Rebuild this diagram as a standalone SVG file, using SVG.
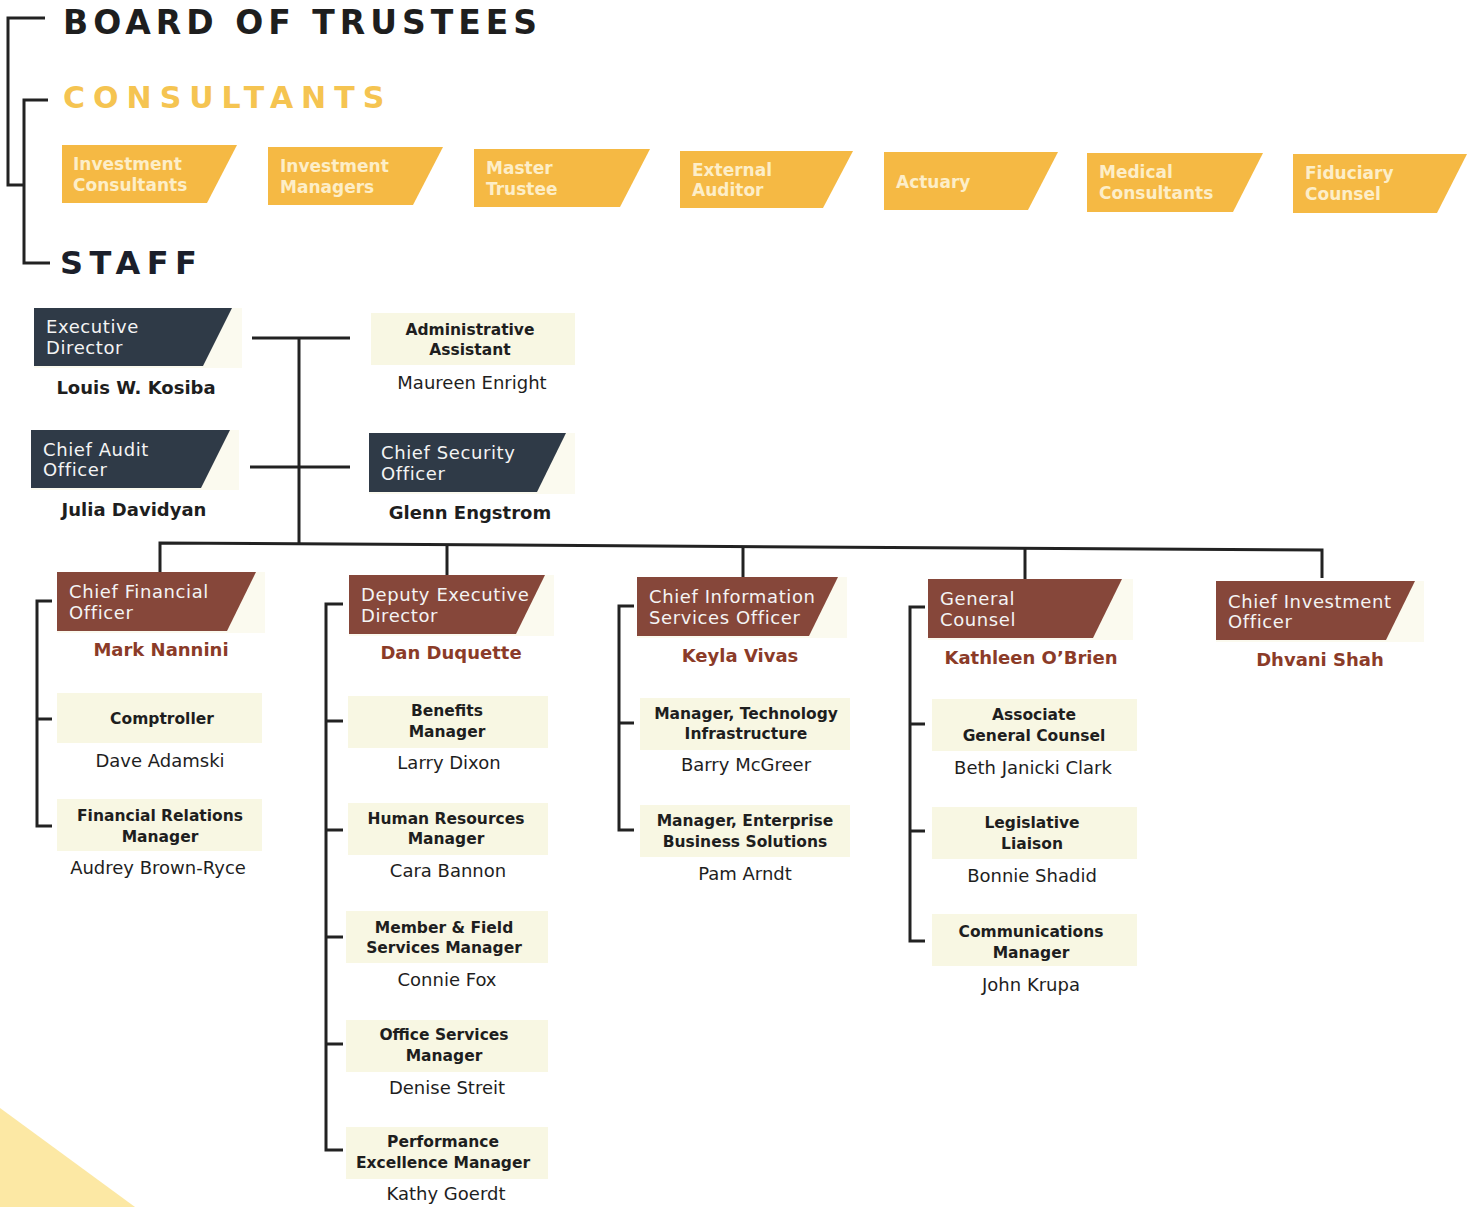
<svg xmlns="http://www.w3.org/2000/svg" width="1480" height="1207" viewBox="0 0 1480 1207">
<style>
.bg{fill:#ffffff}
.hdr{font-family:"DejaVu Sans",Verdana,sans-serif;font-weight:bold}
.con{fill:#f5b944}
.cont{font-family:"DejaVu Sans",sans-serif;font-weight:bold;font-size:17px;fill:#fdeec8}
.dark{fill:#2f3a47}
.brown{fill:#86473a}
.shade{fill:#fbfaef}
.ttl{font-family:"DejaVu Sans",Verdana,sans-serif;font-size:18px;fill:#f4f4f4;letter-spacing:0.6px}
.cream{fill:#f8f7e3}
.ct{font-family:"DejaVu Sans",Verdana,sans-serif;font-weight:bold;font-size:15.5px;fill:#1e1e1e;text-anchor:middle}
.nm{font-family:"DejaVu Sans",Verdana,sans-serif;font-size:18px;fill:#1e1e1e;text-anchor:middle}
.nmb{font-family:"DejaVu Sans",Verdana,sans-serif;font-weight:bold;font-size:18px;fill:#1e1e1e;text-anchor:middle}
.nmr{font-family:"DejaVu Sans",Verdana,sans-serif;font-weight:bold;font-size:18px;fill:#8b3b28;text-anchor:middle}
.ln{fill:none;stroke:#222;stroke-width:3}
</style>
<rect class="bg" x="0" y="0" width="1480" height="1207"/>
<polygon points="0,1108 135,1207 0,1207" fill="#fce8a4"/>

<g id="connectors">
<path class="ln" d="M45,18 H8 V185 H24"/>
<path class="ln" d="M48,100 H24 V263 H50"/>
<path class="ln" d="M252,338 H350"/>
<path class="ln" d="M250,467 H350"/>
<path class="ln" d="M299,338 V545"/>
<path class="ln" d="M160,572 V543 L1322,550 V578"/>
<path class="ln" d="M447,545 V575"/>
<path class="ln" d="M743,547 V577"/>
<path class="ln" d="M1025,549 V579"/>
<path class="ln" d="M52,601 H37 V826 H52 M37,719 H52"/>
<path class="ln" d="M343,604 H326 V1150 H343 M326,721 H343 M326,830 H343 M326,937 H343 M326,1044 H343"/>
<path class="ln" d="M634,606 H619 V830 H634 M619,723 H634"/>
<path class="ln" d="M925,607 H910 V941 H925 M910,724 H925 M910,831 H925"/>
</g>

<g id="board">
<text class="hdr" x="63" y="34" font-size="33" fill="#1e1e1e" letter-spacing="5">BOARD OF TRUSTEES</text>
</g>
<g id="consultants">
<text class="hdr" x="63" y="108" font-size="30" fill="#f5c451" letter-spacing="8">CONSULTANTS</text>
</g>
<g id="staff">
<text class="hdr" x="60" y="274" font-size="32" fill="#1b1f2a" letter-spacing="6.5">STAFF</text>
</g>

<g id="c-investment-consultants">
<polygon class="con" points="62,145 237,145 207,203 62,203"/>
<text class="cont" x="73" y="170">Investment</text>
<text class="cont" x="73" y="191">Consultants</text>
</g>
<g id="c-investment-managers">
<polygon class="con" points="268,147 443,147 413,205 268,205"/>
<text class="cont" x="280" y="172">Investment</text>
<text class="cont" x="280" y="193">Managers</text>
</g>
<g id="c-master-trustee">
<polygon class="con" points="474,149 650,149 620,207 474,207"/>
<text class="cont" x="486" y="174">Master</text>
<text class="cont" x="486" y="195">Trustee</text>
</g>
<g id="c-external-auditor">
<polygon class="con" points="680,151 853,151 823,208 680,208"/>
<text class="cont" x="692" y="176">External</text>
<text class="cont" x="692" y="196">Auditor</text>
</g>
<g id="c-actuary">
<polygon class="con" points="884,152 1058,152 1028,210 884,210"/>
<text class="cont" x="896" y="188">Actuary</text>
</g>
<g id="c-medical-consultants">
<polygon class="con" points="1087,153 1263,153 1233,212 1087,212"/>
<text class="cont" x="1099" y="178">Medical</text>
<text class="cont" x="1099" y="199">Consultants</text>
</g>
<g id="c-fiduciary-counsel">
<polygon class="con" points="1293,154 1467,154 1437,213 1293,213"/>
<text class="cont" x="1305" y="179">Fiduciary</text>
<text class="cont" x="1305" y="200">Counsel</text>
</g>

<g id="executive-director">
<rect class="shade" x="34" y="308" width="208" height="60"/>
<polygon class="dark" points="34,308 232,308 203,366 34,366"/>
<text class="ttl" x="46" y="333">Executive</text>
<text class="ttl" x="46" y="354">Director</text>
<text class="nmb" x="136" y="394">Louis W. Kosiba</text>
</g>
<g id="chief-audit-officer">
<rect class="shade" x="31" y="430" width="208" height="60"/>
<polygon class="dark" points="31,430 230,430 201,488 31,488"/>
<text class="ttl" x="43" y="456">Chief Audit</text>
<text class="ttl" x="43" y="476">Officer</text>
<text class="nmb" x="134" y="516">Julia Davidyan</text>
</g>
<g id="administrative-assistant">
<rect class="cream" x="371" y="313" width="204" height="52"/>
<text class="ct" x="470" y="335">Administrative</text>
<text class="ct" x="470" y="355">Assistant</text>
<text class="nm" x="472" y="389">Maureen Enright</text>
</g>
<g id="chief-security-officer">
<rect class="shade" x="369" y="433" width="206" height="61"/>
<polygon class="dark" points="369,433 566,433 537,492 369,492"/>
<text class="ttl" x="381" y="459">Chief Security</text>
<text class="ttl" x="381" y="480">Officer</text>
<text class="nmb" x="470" y="519">Glenn Engstrom</text>
</g>

<g id="chief-financial-officer">
<rect class="shade" x="57" y="572" width="208" height="61"/>
<polygon class="brown" points="57,572 256,572 227,631 57,631"/>
<text class="ttl" x="69" y="598">Chief Financial</text>
<text class="ttl" x="69" y="619">Officer</text>
<text class="nmr" x="161" y="656">Mark Nannini</text>
</g>
<g id="comptroller">
<rect class="cream" x="57" y="693" width="205" height="50"/>
<text class="ct" x="162" y="724">Comptroller</text>
<text class="nm" x="160" y="767">Dave Adamski</text>
</g>
<g id="financial-relations-manager">
<rect class="cream" x="57" y="799" width="205" height="52"/>
<text class="ct" x="160" y="821">Financial Relations</text>
<text class="ct" x="160" y="842">Manager</text>
<text class="nm" x="158" y="874">Audrey Brown-Ryce</text>
</g>

<g id="deputy-executive-director">
<rect class="shade" x="349" y="575" width="205" height="61"/>
<polygon class="brown" points="349,575 545,575 516,634 349,634"/>
<text class="ttl" x="361" y="601">Deputy Executive</text>
<text class="ttl" x="361" y="622">Director</text>
<text class="nmr" x="451" y="659">Dan Duquette</text>
</g>
<g id="benefits-manager">
<rect class="cream" x="348" y="696" width="200" height="52"/>
<text class="ct" x="447" y="716">Benefits</text>
<text class="ct" x="447" y="737">Manager</text>
<text class="nm" x="449" y="769">Larry Dixon</text>
</g>
<g id="human-resources-manager">
<rect class="cream" x="348" y="803" width="200" height="52"/>
<text class="ct" x="446" y="824">Human Resources</text>
<text class="ct" x="446" y="844">Manager</text>
<text class="nm" x="448" y="877">Cara Bannon</text>
</g>
<g id="member-field-services-manager">
<rect class="cream" x="346" y="911" width="202" height="52"/>
<text class="ct" x="444" y="933">Member &amp; Field</text>
<text class="ct" x="444" y="953">Services Manager</text>
<text class="nm" x="447" y="986">Connie Fox</text>
</g>
<g id="office-services-manager">
<rect class="cream" x="346" y="1020" width="202" height="52"/>
<text class="ct" x="444" y="1040">Office Services</text>
<text class="ct" x="444" y="1061">Manager</text>
<text class="nm" x="447" y="1094">Denise Streit</text>
</g>
<g id="performance-excellence-manager">
<rect class="cream" x="346" y="1127" width="202" height="52"/>
<text class="ct" x="443" y="1147">Performance</text>
<text class="ct" x="443" y="1168">Excellence Manager</text>
<text class="nm" x="446" y="1200">Kathy Goerdt</text>
</g>

<g id="chief-information-services-officer">
<rect class="shade" x="637" y="577" width="210" height="61"/>
<polygon class="brown" points="637,577 838,577 809,636 637,636"/>
<text class="ttl" x="649" y="603">Chief Information</text>
<text class="ttl" x="649" y="624">Services Officer</text>
<text class="nmr" x="740" y="662">Keyla Vivas</text>
</g>
<g id="manager-technology-infrastructure">
<rect class="cream" x="640" y="698" width="210" height="52"/>
<text class="ct" x="746" y="719">Manager, Technology</text>
<text class="ct" x="746" y="739">Infrastructure</text>
<text class="nm" x="746" y="771">Barry McGreer</text>
</g>
<g id="manager-enterprise-business-solutions">
<rect class="cream" x="640" y="805" width="210" height="52"/>
<text class="ct" x="745" y="826">Manager, Enterprise</text>
<text class="ct" x="745" y="847">Business Solutions</text>
<text class="nm" x="745" y="880">Pam Arndt</text>
</g>

<g id="general-counsel">
<rect class="shade" x="928" y="579" width="205" height="61"/>
<polygon class="brown" points="928,579 1122,579 1093,638 928,638"/>
<text class="ttl" x="940" y="605">General</text>
<text class="ttl" x="940" y="626">Counsel</text>
<text class="nmr" x="1031" y="664">Kathleen O’Brien</text>
</g>
<g id="associate-general-counsel">
<rect class="cream" x="932" y="699" width="205" height="52"/>
<text class="ct" x="1034" y="720">Associate</text>
<text class="ct" x="1034" y="741">General Counsel</text>
<text class="nm" x="1033" y="774">Beth Janicki Clark</text>
</g>
<g id="legislative-liaison">
<rect class="cream" x="932" y="807" width="205" height="52"/>
<text class="ct" x="1032" y="828">Legislative</text>
<text class="ct" x="1032" y="849">Liaison</text>
<text class="nm" x="1032" y="882">Bonnie Shadid</text>
</g>
<g id="communications-manager">
<rect class="cream" x="932" y="914" width="205" height="52"/>
<text class="ct" x="1031" y="937">Communications</text>
<text class="ct" x="1031" y="958">Manager</text>
<text class="nm" x="1031" y="991">John Krupa</text>
</g>

<g id="chief-investment-officer">
<rect class="shade" x="1216" y="581" width="208" height="61"/>
<polygon class="brown" points="1216,581 1415,581 1386,640 1216,640"/>
<text class="ttl" x="1228" y="608">Chief Investment</text>
<text class="ttl" x="1228" y="628">Officer</text>
<text class="nmr" x="1320" y="666">Dhvani Shah</text>
</g>
</svg>
